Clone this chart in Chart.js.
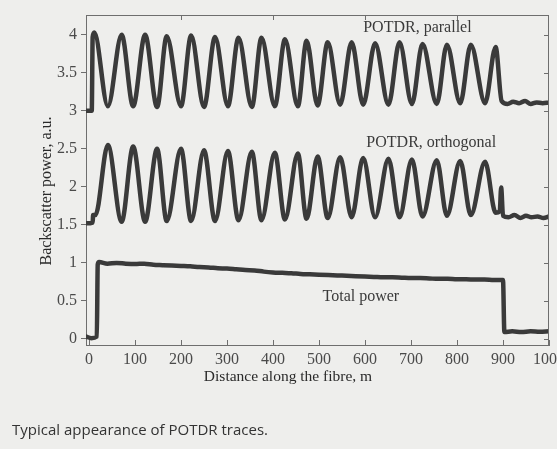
<!DOCTYPE html>
<html lang="en">
<head>
<meta charset="UTF-8">
<title>POTDR traces</title>
<script src="https://cdn.jsdelivr.net/npm/chart.js"></script>
<style>
    body {
        margin: 0;
        width: 557px;
        height: 449px;
        overflow: hidden;
        position: relative;
        background: #eeeeec;
    }
    #wrap {
        position: absolute;
        left: 0;
        top: 0;
        width: 557px;
        height: 449px;
    }
    #caption {
        position: absolute;
        left: 12px;
        top: 419px;
        font-family: "Open Sans", sans-serif;
        font-size: 15px;
        color: #333;
    }
</style>
</head>
<body>
<div id="wrap"><canvas id="potdr" width="557" height="449"></canvas></div>
<div id="caption">Typical appearance of POTDR traces.</div>

<script>
// distance along the fibre (m) and backscatter power (a.u.)
const parallelX = [-6, 6, 8, 11.5,
    41, 71, 96, 122, 148, 169, 200, 222, 250, 274, 302, 325, 354, 375, 404, 426, 454,
    473, 497, 519, 546, 571, 596, 622, 651, 675, 702, 725, 756, 778, 807, 830, 861, 884,
    897, 910, 922, 935, 948, 960, 973, 986, 1000];
const parallelY = [3.0, 3.0, 3.97, 4.03,
    3.06, 4.0, 3.06, 4.0, 3.05, 3.98, 3.06, 3.99, 3.05, 3.97, 3.06, 3.96, 3.05, 3.96, 3.06, 3.94, 3.06,
    3.92, 3.07, 3.9, 3.08, 3.9, 3.08, 3.89, 3.08, 3.9, 3.09, 3.88, 3.09, 3.87, 3.1, 3.87, 3.1, 3.84,
    3.13, 3.09, 3.12, 3.1, 3.13, 3.09, 3.11, 3.1, 3.11];

const orthoX = [-6, 8, 9, 14,
    41, 71, 96, 122, 148, 169, 200, 222, 250, 274, 302, 325, 354, 375, 404, 426, 454,
    473, 497, 519, 546, 571, 596, 622, 651, 675, 702, 725, 756, 778, 807, 830, 861, 884,
    893, 896, 900, 912, 925, 938, 950, 962, 975, 988, 1000];
const orthoY = [1.52, 1.53, 1.63, 1.63,
    2.55, 1.54, 2.53, 1.54, 2.5, 1.55, 2.5, 1.55, 2.48, 1.55, 2.47, 1.56, 2.46, 1.56, 2.45, 1.57, 2.44,
    1.58, 2.4, 1.59, 2.39, 1.6, 2.38, 1.6, 2.37, 1.6, 2.36, 1.61, 2.35, 1.62, 2.34, 1.63, 2.33, 1.66,
    1.68, 1.99, 1.62, 1.6, 1.63, 1.59, 1.62, 1.6, 1.61, 1.59, 1.61];

const totalX = [-6, 5, 17, 19, 22, 40, 60, 80, 100, 120, 140, 160, 180, 200, 220, 240, 260, 280,
    300, 320, 340, 360, 380, 400, 420, 440, 460, 480, 500, 520, 540, 560, 580, 600, 620, 640,
    660, 680, 700, 720, 740, 760, 780, 800, 820, 840, 860, 880, 900, 903, 920, 940, 960, 980, 1000];
const totalY = [0.03, 0.01, 0.03, 0.98, 1.01, 0.99, 1.0, 0.99, 0.985, 0.99, 0.975, 0.97, 0.965, 0.96,
    0.955, 0.945, 0.94, 0.93, 0.925, 0.915, 0.905, 0.9, 0.885, 0.875, 0.87, 0.865, 0.855, 0.85,
    0.845, 0.84, 0.835, 0.83, 0.825, 0.82, 0.815, 0.81, 0.81, 0.805, 0.8, 0.8, 0.795, 0.79, 0.79,
    0.785, 0.785, 0.78, 0.78, 0.775, 0.775, 0.09, 0.1, 0.09, 0.1, 0.095, 0.1];

const xTicks = [0, 100, 200, 300, 400, 500, 600, 700, 800, 900, 1000];
const xTopTicks = [200, 400, 600, 800];
const yTicks = [0, 0.5, 1, 1.5, 2, 2.5, 3, 3.5, 4];

const notes = [
    { text: 'POTDR, parallel', x: 714, y: 4.09 },
    { text: 'POTDR, orthogonal', x: 744, y: 2.58 },
    { text: 'Total power', x: 591, y: 0.55 }
];

const serif = '"Liberation Serif", "Times New Roman", serif';
const inkColor = '#3a3a3a';
const axisColor = '#6e6e6e';

function toPoints(xs, ys) {
    return xs.map((x, i) => ({ x: x, y: ys[i] }));
}

function trace(label, xs, ys) {
    return {
        label: label,
        data: toPoints(xs, ys),
        borderColor: inkColor,
        borderWidth: 4.5,
        borderJoinStyle: 'round',
        borderCapStyle: 'round',
        pointRadius: 0,
        cubicInterpolationMode: 'monotone',
        fill: false
    };
}

// frame, inward ticks, annotations and axis titles
const framePlugin = {
    id: 'frame',
    afterDraw(chart) {
        const ctx = chart.ctx;
        const a = chart.chartArea;
        const xs = chart.scales.x;
        const ys = chart.scales.y;
        ctx.save();
        ctx.strokeStyle = axisColor;
        ctx.lineWidth = 1;
        ctx.beginPath();
        ctx.moveTo(a.left, a.top + 0.5);
        ctx.lineTo(a.right, a.top + 0.5);
        ctx.moveTo(a.right - 0.5, a.top);
        ctx.lineTo(a.right - 0.5, a.bottom);
        xTicks.forEach(v => {
            const px = Math.round(xs.getPixelForValue(v)) + 0.5;
            ctx.moveTo(px, a.bottom);
            ctx.lineTo(px, a.bottom - 5);
        });
        xTopTicks.forEach(v => {
            const px = Math.round(xs.getPixelForValue(v)) + 0.5;
            ctx.moveTo(px, a.top);
            ctx.lineTo(px, a.top + 5);
        });
        yTicks.forEach(v => {
            const py = Math.round(ys.getPixelForValue(v)) + 0.5;
            ctx.moveTo(a.right, py);
            ctx.lineTo(a.right - 5, py);
        });
        ctx.stroke();

        ctx.fillStyle = inkColor;
        ctx.textAlign = 'center';
        ctx.textBaseline = 'middle';
        ctx.font = '16px ' + serif;
        notes.forEach(n => {
            ctx.fillText(n.text, xs.getPixelForValue(n.x), ys.getPixelForValue(n.y));
        });

        ctx.fillStyle = '#2a2a2a';
        ctx.font = '15.5px ' + serif;
        ctx.fillText('Distance along the fibre, m', 288, 377);

        ctx.font = '16px ' + serif;
        ctx.translate(47, 191);
        ctx.rotate(-Math.PI / 2);
        ctx.fillText('Backscatter power, a.u.', 0, 0);
        ctx.restore();
    }
};

new Chart(document.getElementById('potdr'), {
    type: 'line',
    data: {
        datasets: [
            trace('POTDR, parallel', parallelX, parallelY),
            trace('POTDR, orthogonal', orthoX, orthoY),
            trace('Total power', totalX, totalY)
        ]
    },
    options: {
        responsive: false,
        animation: false,
        devicePixelRatio: 1,
        layout: {
            autoPadding: false,
            padding: { left: 0, right: 8, top: 15, bottom: 64 }
        },
        plugins: {
            legend: { display: false },
            tooltip: { enabled: false }
        },
        scales: {
            x: {
                type: 'linear',
                min: -6.5,
                max: 1000,
                afterBuildTicks: s => { s.ticks = xTicks.map(v => ({ value: v })); },
                afterFit: s => {
                    s.height = 40;
                    // let the 1000 label run off the page edge as in the scan
                    s.paddingLeft = 0;
                    s.paddingRight = 0;
                },
                grid: { display: false, drawTicks: false },
                border: { display: true, color: axisColor, width: 1 },
                ticks: {
                    autoSkip: false,
                    maxRotation: 0,
                    padding: 5,
                    color: '#4a4a4a',
                    font: { family: serif, size: 16 },
                    callback: v => String(v)
                }
            },
            y: {
                type: 'linear',
                min: -0.08,
                max: 4.26,
                afterBuildTicks: s => { s.ticks = yTicks.map(v => ({ value: v })); },
                afterFit: s => { s.width = 86; },
                grid: { drawOnChartArea: false, drawTicks: true, tickLength: 5, color: axisColor },
                border: { display: true, color: axisColor, width: 1 },
                ticks: {
                    padding: 4,
                    color: '#4a4a4a',
                    font: { family: serif, size: 16 },
                    callback: v => String(v)
                }
            }
        }
    },
    plugins: [framePlugin]
});
</script>
</body>
</html>
